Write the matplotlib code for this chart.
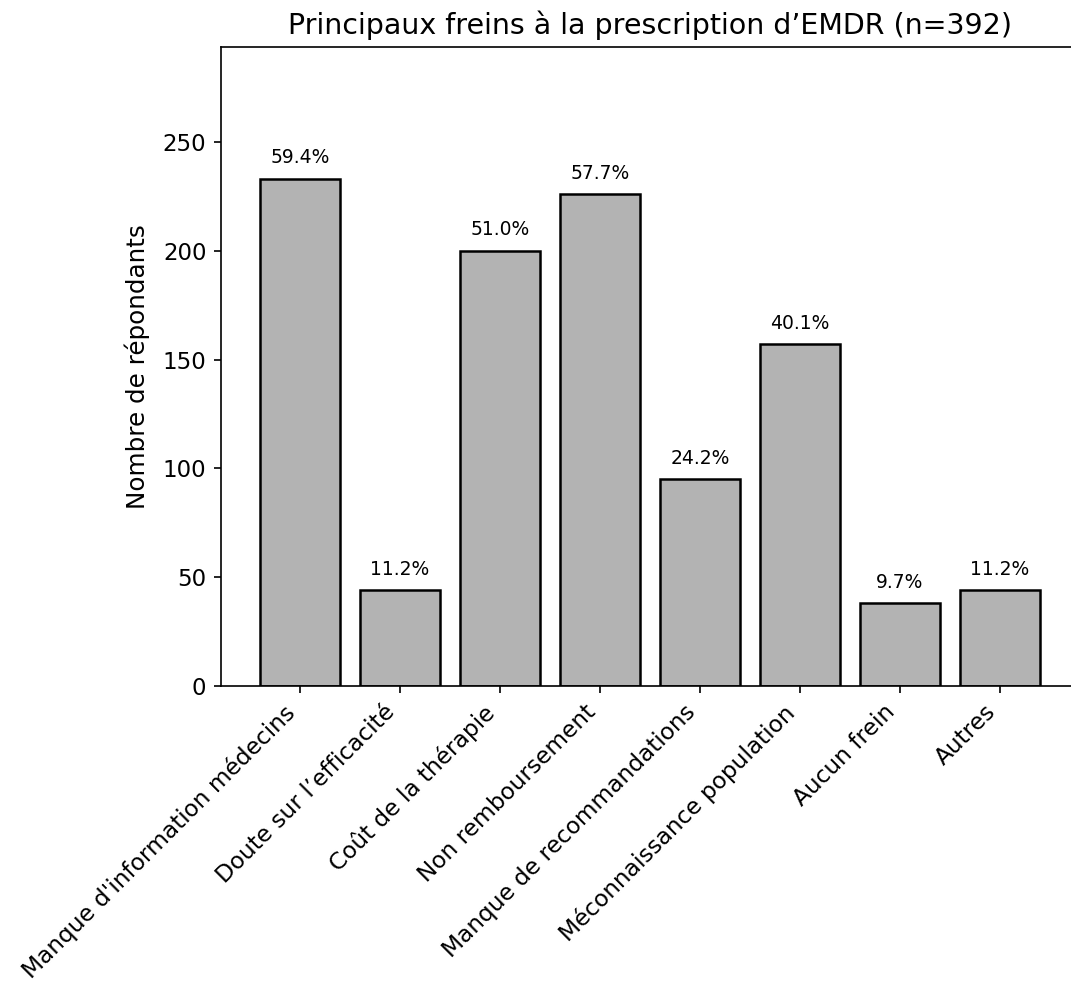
import matplotlib
matplotlib.use("Agg")
import matplotlib.pyplot as plt
import numpy as np

N_TOTAL = 392
categories = ["Manque d'information médecins", "Doute sur l\u2019efficacité",
              "Coût de la thérapie", "Non remboursement",
              "Manque de recommandations", "Méconnaissance population",
              "Aucun frein", "Autres"]
counts = [233, 44, 200, 226, 95, 157, 38, 44]

DPI = 150
fig = plt.figure(figsize=(1071 / DPI, 989 / DPI), dpi=DPI)
# axes run past the right edge, as in the original (cropped) image
ax = fig.add_axes([221 / 1071, 1 - 686 / 989, 858 / 1071, 639 / 989])

x = np.arange(len(categories))
bars = ax.bar(x, counts, width=0.8, color="#b3b3b3", edgecolor="black", linewidth=1.2)

for b, c in zip(bars, counts):
    pct = 100.0 * c / N_TOTAL
    ax.annotate("{:.1f}%".format(pct), (b.get_x() + b.get_width() / 2, c),
                xytext=(0, 5.5), textcoords="offset points",
                ha="center", va="bottom", fontsize=9)

ax.set_xticks(x)
ax.set_xticklabels(categories, rotation=45, ha="right", fontsize=11.2)
ax.tick_params(axis="y", labelsize=11)
ax.set_ylim(0, max(counts) * 1.26)
ax.set_ylabel("Nombre de répondants", fontsize=11.8, labelpad=6)
ax.set_title("Principaux freins à la prescription d\u2019EMDR (n={})".format(N_TOTAL), fontsize=13.7)
ax.spines["right"].set_visible(False)

fig.savefig("out.png", dpi=DPI)
